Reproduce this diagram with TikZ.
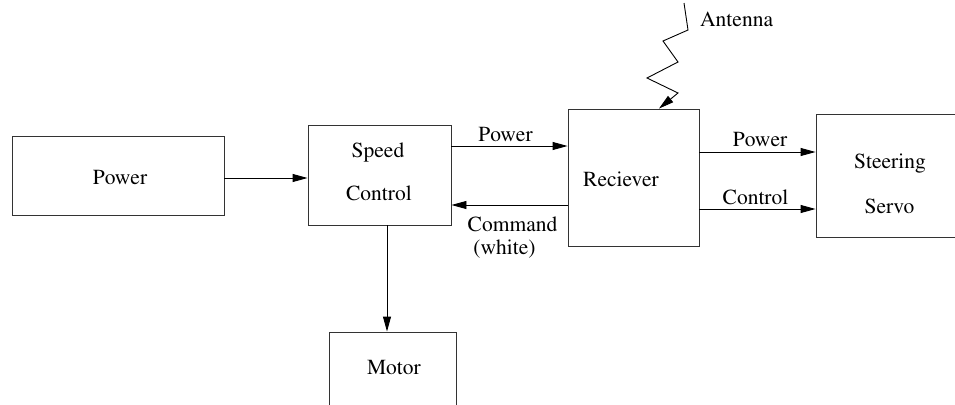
\documentclass[tikz,border=0pt]{standalone}
\usepackage[T1]{fontenc}
\usepackage{times}
\usetikzlibrary{arrows.meta}
\begin{document}
\begin{tikzpicture}[x=1pt,y=-1pt,
  box/.style={draw=black!80, line width=0.9pt, inner sep=0pt},
  lbl/.style={font=\rmfamily\fontsize{21.5}{24}\selectfont, inner sep=0pt, anchor=base},
  arr/.style={-{Triangle[length=15pt,width=8pt]}, line width=0.9pt}]
\clip (0,0) rectangle (955,404);
% boxes
\node[box, minimum width=212pt, minimum height=79pt] (pw) at (118,175.5) {};
\node[box, minimum width=143pt, minimum height=100pt] (sc) at (379.5,175) {};
\node[box, minimum width=131pt, minimum height=137pt] (rx) at (633.5,177.5) {};
\node[box, minimum width=159pt, minimum height=123pt] (sv) at (895.5,175.5) {};
\node[box, minimum width=127pt, minimum height=108pt] (mo) at (392.5,386) {};
% box texts
\node[lbl] (tpw) at (120,184) {Power};
\node[lbl] (tsc1) at (378,157) {Speed};
\node[lbl] (tsc2) at (379,200) {Control};
\node[lbl] (trx) at (621,186) {Reciever};
\node[lbl] (tsv1) at (890,168) {Steering};
\node[lbl] (tsv2) at (889.5,213) {Servo};
\node[lbl] (tmo) at (394,374) {Motor};
% level coordinates
\coordinate (y1) at (0,178);
\coordinate (y2) at (0,146);
\coordinate (y3) at (0,205);
\coordinate (y4) at (0,152);
\coordinate (y5) at (0,209);
\coordinate (xm) at (387,0);
\coordinate (xa) at (659,0);
% connectors
\draw[arr] (pw.east |- y1) -- (sc.west |- y1);
\draw[arr] (sc.east |- y2) -- (rx.west |- y2);
\draw[arr] (rx.west |- y3) -- (sc.east |- y3);
\draw[arr] (rx.east |- y4) -- (sv.west |- y4);
\draw[arr] (rx.east |- y5) -- (sv.west |- y5);
\draw[arr] (sc.south -| xm) -- (mo.north -| xm);
% connector labels
\node[lbl] (lp1) at (505.5,141) {Power};
\node[lbl] (lcmd) at (512.5,231) {Command};
\node[lbl] (lwh) at (504.5,254) {(white)};
\node[lbl] (lp2) at (760,146.5) {Power};
\node[lbl] (lct) at (755.5,204) {Control};
% antenna
\coordinate (a0) at (684,3);
\draw[arr, line join=miter] (a0) -- (688,30) -- (663,41) -- (678,62) -- (647,78) -- (678,93) -- (rx.north -| xa);
\node[lbl, anchor=base west] (lant) at (700,27) {Antenna};
\end{tikzpicture}
\end{document}
